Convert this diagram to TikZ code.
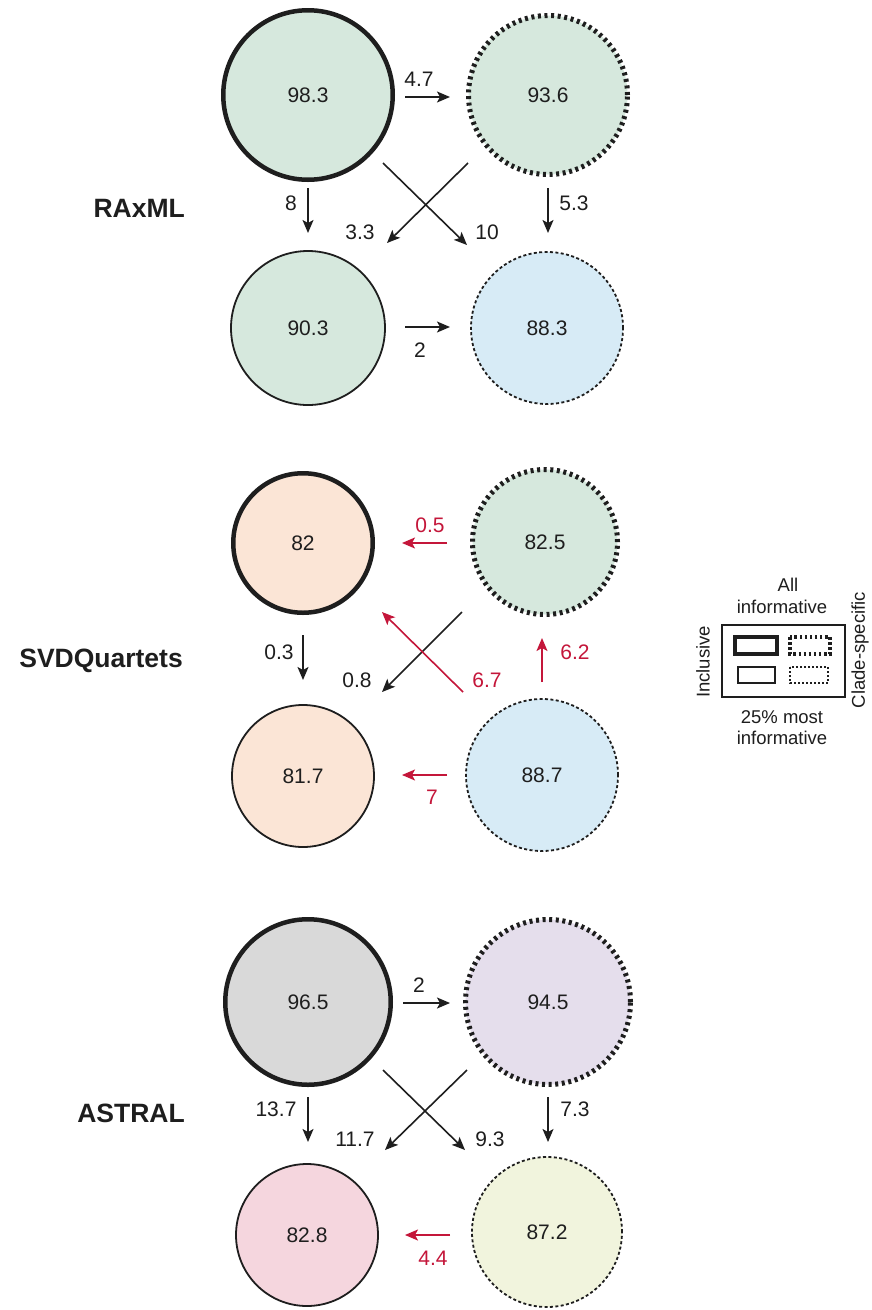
\documentclass[tikz,border=0pt]{standalone}
\usepackage{fontspec}
\setmainfont{Liberation Sans}
\usetikzlibrary{calc,arrows.meta}

\definecolor{ink}{RGB}{30,30,30}
\definecolor{alert}{RGB}{196,22,58}
\definecolor{mint}{RGB}{214,232,221}
\definecolor{sky}{RGB}{215,235,246}
\definecolor{peach}{RGB}{251,229,214}
\definecolor{stone}{RGB}{217,217,217}
\definecolor{lilac}{RGB}{229,222,236}
\definecolor{rose}{RGB}{245,214,222}
\definecolor{cream}{RGB}{241,244,221}

\newcommand{\numfont}{\fontsize{21}{25}\selectfont}
\newcommand{\methfont}{\fontsize{26.5}{30}\selectfont\bfseries}
\newcommand{\legfont}{\fontsize{18.5}{22}\selectfont}

\begin{document}
\begin{tikzpicture}[
  x=1pt, y=-1pt,
  circ/.style={circle, inner sep=0pt, font=\numfont, text=ink},
  allinc/.style={circ, draw=ink, line width=4.5pt},
  allclade/.style={circ, draw=ink, line width=5pt, dash pattern=on 3pt off 3.6pt},
  topinc/.style={circ, draw=ink, line width=1.8pt},
  topclade/.style={circ, draw=ink, line width=1.8pt, dash pattern=on 3pt off 2.4pt},
  arr/.style={-{Stealth[length=13pt,width=11pt,inset=3pt]}, line width=1.6pt, draw=ink},
  redarr/.style={arr, draw=alert, -{Stealth[length=13pt,width=11pt,inset=3pt,fill=alert]}},
  lab/.style={font=\numfont, text=ink, inner sep=0pt},
  redlab/.style={lab, text=alert},
  method/.style={font=\methfont, text=ink, anchor=base east, inner sep=0pt},
  legtext/.style={font=\legfont, text=ink, inner sep=0pt},
]
\useasboundingbox[fill=white] (0,0) rectangle (872,1310);

% ---------------- RAxML ----------------
\node[method] (mRAxML) at (185,217) {RAxML};
\node[allinc,   fill=mint, minimum size=169.5pt] (A1) at (308,95)  {98.3};
\node[allclade, fill=mint, minimum size=159pt]   (B1) at (548,95)  {93.6};
\node[topinc,   fill=mint, minimum size=154pt]   (C1) at (308,328) {90.3};
\node[topclade, fill=sky,  minimum size=152pt]   (D1) at (547,328) {88.3};

\draw[arr] ($(A1)+(97,2)$) -- ($(B1)+(-98,2)$);
\node[lab] (l1a) at (419,79) {4.7};
\draw[arr] ($(A1)+(0,93)$) -- ($(C1)+(0,-95)$);
\node[lab] (l1b) at (291,203) {8};
\draw[arr] ($(B1)+(-80,68)$) -- ($(C1)+(79,-85)$);
\node[lab] (l1c) at (360,232) {3.3};
\draw[arr] ($(A1)+(75,68)$) -- ($(D1)+(-80,-83)$);
\node[lab] (l1d) at (487,232) {10};
\draw[arr] ($(B1)+(0,93)$) -- ($(D1)+(1,-95)$);
\node[lab] (l1e) at (574,203) {5.3};
\draw[arr] ($(C1)+(97,-1)$) -- ($(D1)+(-97,-1)$);
\node[lab] (l1f) at (420,350) {2};

% ---------------- SVDQuartets ----------------
\node[method] (mSVD) at (183,667) {SVDQuartets};
\node[allinc,   fill=peach, minimum size=139.5pt] (A2) at (303,543) {82};
\node[allclade, fill=mint,  minimum size=145pt]   (B2) at (545,542) {82.5};
\node[topinc,   fill=peach, minimum size=142pt]   (C2) at (303,776) {81.7};
\node[topclade, fill=sky,   minimum size=152pt]   (D2) at (542,775) {88.7};

\draw[redarr] ($(B2)+(-98,1)$) -- ($(A2)+(99,0)$);
\node[redlab] (l2a) at (430,525) {0.5};
\draw[arr] ($(A2)+(0,92)$) -- ($(C2)+(0,-96)$);
\node[lab] (l2b) at (279,652) {0.3};
\draw[arr] ($(B2)+(-83,70)$) -- ($(C2)+(79,-84)$);
\node[lab] (l2c) at (357,680) {0.8};
\draw[redarr] ($(D2)+(-79,-83)$) -- ($(A2)+(79,69)$);
\node[redlab] (l2d) at (487,680) {6.7};
\draw[redarr] ($(D2)+(0,-93)$) -- ($(B2)+(-3,96)$);
\node[redlab] (l2e) at (575,652) {6.2};
\draw[redarr] ($(D2)+(-95,0)$) -- ($(C2)+(99,-1)$);
\node[redlab] (l2f) at (432,797) {7};

% ---------------- ASTRAL ----------------
\node[method] (mASTRAL) at (185,1122) {ASTRAL};
\node[allinc,   fill=stone, minimum size=165.5pt] (A3) at (308,1002) {96.5};
\node[allclade, fill=lilac, minimum size=165pt]   (B3) at (548,1002) {94.5};
\node[topinc,   fill=rose,  minimum size=142pt]   (C3) at (307,1235) {82.8};
\node[topclade, fill=cream, minimum size=150pt]   (D3) at (547,1232) {87.2};

\draw[arr] ($(A3)+(95,1)$) -- ($(B3)+(-98,1)$);
\node[lab] (l3a) at (419,985) {2};
\draw[arr] ($(A3)+(0,95)$) -- ($(C3)+(1,-93)$);
\node[lab] (l3b) at (276,1109) {13.7};
\draw[arr] ($(B3)+(-81,68)$) -- ($(C3)+(78,-85)$);
\node[lab] (l3c) at (355,1139) {11.7};
\draw[arr] ($(A3)+(75,68)$) -- ($(D3)+(-82,-82)$);
\node[lab] (l3d) at (490,1139) {9.3};
\draw[arr] ($(B3)+(0,95)$) -- ($(D3)+(1,-90)$);
\node[lab] (l3e) at (575,1109) {7.3};
\draw[redarr] ($(D3)+(-97,3)$) -- ($(C3)+(98,0)$);
\node[redlab] (l3f) at (433,1258) {4.4};

% ---------------- Legend ----------------
\draw[ink, line width=1.3pt] (722,625) rectangle (845,697);
\draw[ink, line width=3.5pt] (735,637) rectangle (777,654);
\draw[ink, line width=3.5pt, dash pattern=on 2.5pt off 2.6pt] (790,637) rectangle (830,654);
\draw[ink, line width=1.2pt] (738,667) rectangle (775,683);
\draw[ink, line width=1.2pt, dash pattern=on 2pt off 2pt] (790,667) rectangle (828,683);
\node[legtext] (gAll) at (788,585) {All};
\node[legtext] (gInf) at (782,607) {informative};
\node[legtext, rotate=90] (gInc) at (703,662) {Inclusive};
\node[legtext, rotate=90] (gCla) at (860,650) {Clade-specific};
\node[legtext] (gTop) at (782,717) {25\% most};
\node[legtext] (gInf2) at (782,738) {informative};
\end{tikzpicture}
\end{document}
